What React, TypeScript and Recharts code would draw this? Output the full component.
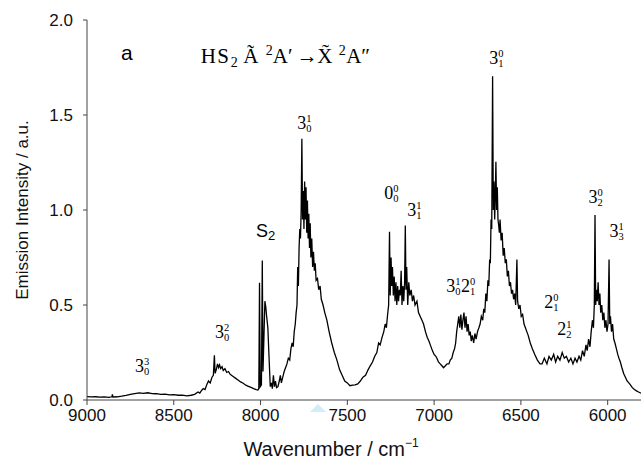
import React from 'react';
import { LineChart, Line, XAxis, YAxis, ReferenceDot } from 'recharts';

const wavenumber = [
  9000, 8975, 8950, 8925, 8900, 8875, 8856, 8854, 8850, 8825, 8800, 8775, 8750, 8725, 8700, 8675, 8650, 8625, 8600, 8575,
  8550, 8525, 8500, 8475, 8450, 8425, 8400, 8380, 8360, 8350, 8340, 8330, 8320, 8310, 8300, 8290, 8280, 8272, 8266, 8262,
  8255, 8248, 8242, 8236, 8230, 8222, 8215, 8205, 8195, 8185, 8175, 8160, 8145, 8130, 8115, 8100, 8085, 8070, 8055, 8040,
  8025, 8015, 8010, 8006, 8002, 7995, 7990, 7986, 7980, 7975, 7970, 7965, 7958, 7950, 7944, 7938, 7932, 7926, 7920, 7914,
  7908, 7900, 7892, 7886, 7880, 7872, 7864, 7856, 7848, 7840, 7832, 7825, 7818, 7812, 7806, 7800, 7795, 7790, 7786, 7782,
  7778, 7774, 7770, 7766, 7762, 7758, 7754, 7750, 7746, 7742, 7738, 7734, 7730, 7726, 7722, 7718, 7714, 7710, 7705, 7700,
  7695, 7690, 7685, 7680, 7672, 7665, 7657, 7650, 7640, 7630, 7618, 7605, 7590, 7575, 7560, 7545, 7530, 7515, 7500, 7485,
  7470, 7455, 7440, 7425, 7410, 7395, 7380, 7368, 7355, 7342, 7330, 7320, 7311, 7300, 7290, 7282, 7275, 7268, 7262, 7257,
  7253, 7248, 7244, 7240, 7235, 7230, 7225, 7220, 7215, 7210, 7205, 7200, 7195, 7190, 7185, 7180, 7175, 7170, 7166, 7162,
  7158, 7152, 7146, 7140, 7132, 7125, 7118, 7110, 7099, 7090, 7080, 7070, 7061, 7050, 7040, 7030, 7022, 7010, 7000, 6990,
  6984, 6975, 6965, 6955, 6946, 6935, 6925, 6915, 6907, 6898, 6890, 6882, 6876, 6870, 6864, 6858, 6852, 6846, 6840, 6834,
  6828, 6822, 6816, 6810, 6804, 6798, 6792, 6786, 6780, 6772, 6765, 6758, 6750, 6742, 6735, 6728, 6720, 6714, 6708, 6702,
  6696, 6690, 6685, 6680, 6676, 6672, 6668, 6663, 6659, 6655, 6651, 6647, 6644, 6640, 6636, 6632, 6628, 6624, 6620, 6614,
  6608, 6602, 6596, 6590, 6584, 6578, 6572, 6566, 6560, 6554, 6548, 6542, 6536, 6530, 6523, 6519, 6512, 6505, 6498, 6490,
  6482, 6474, 6466, 6458, 6446, 6434, 6420, 6405, 6390, 6378, 6365, 6350, 6338, 6325, 6311, 6300, 6288, 6275, 6262, 6250,
  6238, 6225, 6212, 6200, 6188, 6177, 6165, 6155, 6145, 6135, 6125, 6118, 6110, 6102, 6095, 6088, 6082, 6077, 6073, 6069,
  6065, 6060, 6055, 6050, 6045, 6040, 6034, 6028, 6022, 6016, 6010, 6004, 5998, 5992, 5988, 5984, 5978, 5972, 5965, 5958,
  5950, 5942, 5935, 5927, 5918, 5908, 5898, 5888, 5878, 5869, 5858, 5846, 5834, 5822, 5808,
];

const intensity = [
  0.018, 0.016, 0.017, 0.015, 0.016, 0.014, 0.017, 0.03, 0.016, 0.017, 0.02, 0.024, 0.03, 0.034, 0.037, 0.035, 0.038, 0.034, 0.033, 0.03,
  0.031, 0.027, 0.028, 0.025, 0.026, 0.022, 0.025, 0.03, 0.042, 0.036, 0.05, 0.06, 0.055, 0.08, 0.1, 0.09, 0.12, 0.13, 0.236, 0.14,
  0.16, 0.19, 0.17, 0.185, 0.165, 0.175, 0.155, 0.165, 0.145, 0.15, 0.135, 0.125, 0.115, 0.105, 0.095, 0.088, 0.078, 0.072, 0.066, 0.06,
  0.055, 0.053, 0.06, 0.617, 0.07, 0.08, 0.734, 0.15, 0.35, 0.52, 0.49, 0.44, 0.38, 0.2, 0.07, 0.09, 0.06, 0.13, 0.07, 0.1,
  0.065, 0.07, 0.1, 0.13, 0.09, 0.12, 0.15, 0.17, 0.19, 0.22, 0.21, 0.27, 0.3, 0.28, 0.36, 0.4, 0.46, 0.5, 0.7, 0.6,
  0.8, 0.9, 0.85, 1.0, 1.375, 0.95, 1.1, 0.9, 1.15, 0.95, 1.12, 0.88, 1.05, 0.85, 0.98, 0.8, 0.93, 0.75, 0.85, 0.7,
  0.78, 0.68, 0.72, 0.63, 0.64, 0.58, 0.6, 0.53, 0.5, 0.46, 0.42, 0.36, 0.3, 0.25, 0.21, 0.16, 0.13, 0.1, 0.09, 0.075,
  0.078, 0.08, 0.085, 0.1, 0.12, 0.13, 0.16, 0.18, 0.2, 0.23, 0.25, 0.3, 0.29, 0.33, 0.36, 0.4, 0.38, 0.45, 0.5, 0.885,
  0.55, 0.75, 0.6, 0.7, 0.55, 0.65, 0.52, 0.62, 0.5, 0.6, 0.52, 0.58, 0.55, 0.68, 0.5, 0.6, 0.52, 0.62, 0.918, 0.58,
  0.7, 0.5, 0.62, 0.55, 0.58, 0.52, 0.55, 0.5, 0.52, 0.46, 0.44, 0.42, 0.4, 0.36, 0.33, 0.31, 0.29, 0.26, 0.24, 0.23,
  0.22, 0.2, 0.19, 0.18, 0.17, 0.18, 0.19, 0.19, 0.21, 0.22, 0.25, 0.27, 0.3, 0.36, 0.4, 0.44, 0.38, 0.45, 0.37, 0.42,
  0.46, 0.38, 0.44, 0.36, 0.4, 0.34, 0.36, 0.31, 0.34, 0.3, 0.35, 0.32, 0.36, 0.38, 0.4, 0.44, 0.42, 0.48, 0.46, 0.56,
  0.52, 0.63, 0.6, 0.74, 0.72, 0.95, 0.9, 1.704, 1.0, 1.15, 0.95, 1.1, 1.254, 1.0, 1.12, 0.95, 0.92, 0.88, 0.95, 0.84,
  0.88, 0.76, 0.8, 0.72, 0.74, 0.65, 0.68, 0.6, 0.62, 0.56, 0.58, 0.53, 0.56, 0.5, 0.74, 0.52, 0.48, 0.5, 0.44, 0.45,
  0.4, 0.38, 0.36, 0.34, 0.3, 0.27, 0.24, 0.21, 0.19, 0.19, 0.22, 0.19, 0.23, 0.21, 0.24, 0.2, 0.23, 0.21, 0.25, 0.22,
  0.23, 0.2, 0.22, 0.19, 0.22, 0.2, 0.23, 0.21, 0.26, 0.23, 0.29, 0.26, 0.32, 0.28, 0.36, 0.42, 0.38, 0.5, 0.973, 0.5,
  0.58, 0.52, 0.62, 0.5, 0.56, 0.46, 0.5, 0.42, 0.46, 0.38, 0.42, 0.36, 0.4, 0.74, 0.4, 0.44, 0.36, 0.4, 0.32, 0.3,
  0.27, 0.24, 0.22, 0.2, 0.17, 0.14, 0.12, 0.1, 0.09, 0.08, 0.065, 0.055, 0.048, 0.042, 0.036,
];

const xTicks = [9000, 8500, 8000, 7500, 7000, 6500, 6000];
const yTicks = [0, 0.5, 1, 1.5, 2];

// [main, superscript, subscript]
const peakLabels = [
  { wn: 8723, y: 0.15, parts: [['3', '3', '0']] },
  { wn: 8262, y: 0.324, parts: [['3', '2', '0']] },
  { wn: 7789, y: 1.424, parts: [['3', '1', '0']] },
  { wn: 7287, y: 1.06, parts: [['0', '0', '0']] },
  { wn: 7155, y: 0.968, parts: [['3', '1', '1']] },
  { wn: 6930, y: 0.568, parts: [['3', '1', '0'], ['2', '0', '1']] },
  { wn: 6682, y: 1.766, parts: [['3', '0', '1']] },
  { wn: 6365, y: 0.482, parts: [['2', '0', '1']] },
  { wn: 6290, y: 0.34, parts: [['2', '1', '2']] },
  { wn: 6111, y: 1.039, parts: [['3', '0', '2']] },
  { wn: 5990, y: 0.86, parts: [['3', '1', '3']] },
];

const data = wavenumber.map((w, i) => ({ w, v: intensity[i] }));

const SERIF = '"Liberation Serif", "Times New Roman", serif';
const SANS = '"Liberation Sans", Arial, sans-serif';

function PeakLabel({ cx, cy, parts }: any) {
  const spans: any[] = [];
  parts.forEach((p: string[], k: number) => {
    const x0 = cx + k * 14.7;
    spans.push(<tspan key={`m${k}`} x={x0} y={cy} fontSize={18}>{p[0]}</tspan>);
    spans.push(<tspan key={`p${k}`} x={x0 + 9} y={cy - 7} fontSize={10.5}>{p[1]}</tspan>);
    spans.push(<tspan key={`b${k}`} x={x0 + 9} y={cy + 3} fontSize={10.5}>{p[2]}</tspan>);
  });
  return <text fontFamily={SERIF} fill="#000">{spans}</text>;
}

function Title({ cx, cy }: any) {
  return (
    <text fontFamily={SERIF} fill="#000" fontSize={21}>
      <tspan x={cx} y={cy}>H</tspan>
      <tspan x={cx + 16.5} y={cy}>S</tspan>
      <tspan x={cx + 30} y={cy + 4} fontSize={14}>2</tspan>
      <tspan x={cx + 42.3} y={cy}>Ã</tspan>
      <tspan x={cx + 65} y={cy - 8} fontSize={14}>2</tspan>
      <tspan x={cx + 72} y={cy}>A′</tspan>
      <tspan x={cx + 96} y={cy}>→</tspan>
      <tspan x={cx + 116.3} y={cy}>{'X\u0303'}</tspan>
      <tspan x={cx + 138} y={cy - 8} fontSize={14}>2</tspan>
      <tspan x={cx + 145.3} y={cy}>A″</tspan>
    </text>
  );
}

export default function App() {
  return (
    <div style={{ position: 'absolute', left: 0, top: 0, background: '#fff' }}>
      <LineChart width={642} height={468} data={data} margin={{ top: 20, right: 1, bottom: 0, left: 0 }}>
        <XAxis
          dataKey="w"
          type="number"
          domain={[5808, 9000]}
          reversed
          allowDataOverflow
          ticks={xTicks}
          height={68}
          tickSize={5}
          tickMargin={4}
          stroke="#444"
          tick={{ fill: '#111', fontFamily: SANS, fontSize: 17 }}
          label={{
            content: (p: any) => {
              const vb = p.viewBox;
              return (
                <text x={331} y={vb.y + 56} textAnchor="middle" fontFamily={SANS} fontSize={20} fill="#111">
                  Wavenumber / cm<tspan dy={-9} fontSize={12}>−1</tspan>
                </text>
              );
            },
          }}
        />
        <XAxis xAxisId="top" orientation="top" type="number" domain={[5808, 9000]} reversed height={0} tick={false} tickLine={false} stroke="#444" />
        <YAxis
          type="number"
          domain={[0, 2]}
          ticks={yTicks}
          width={87}
          tickSize={4}
          tickMargin={10}
          stroke="#444"
          tickFormatter={(v: number) => v.toFixed(1)}
          tick={{ fill: '#111', fontFamily: SANS, fontSize: 17 }}
          label={{
            content: (p: any) => {
              const vb = p.viewBox;
              const x = 22;
              const y = vb.y + vb.height / 2;
              return (
                <text x={x} y={y} transform={`rotate(-90 ${x} ${y})`} textAnchor="middle" dominantBaseline="central" fontFamily={SANS} fontSize={17} fill="#111">
                  Emission Intensity / a.u.
                </text>
              );
            },
          }}
        />
        <YAxis yAxisId="right" orientation="right" type="number" domain={[0, 2]} width={0} tick={false} tickLine={false} stroke="#444" />
        <Line type="linear" dataKey="v" stroke="#000" strokeWidth={1.3} dot={false} isAnimationActive={false} />
        <ReferenceDot x={7669} y={0} r={0} ifOverflow="visible" shape={(p: any) => (
          <polygon points={`${p.cx},${p.cy + 4} ${p.cx - 8},${p.cy + 12} ${p.cx + 8},${p.cy + 12}`} fill="#d4ecf7" />
        )} />
        <ReferenceDot x={8804} y={1.792} r={0} ifOverflow="visible" shape={(p: any) => (
          <text x={p.cx} y={p.cy} fontFamily={SANS} fontSize={21} fill="#000">a</text>
        )} />
        <ReferenceDot x={8344} y={1.775} r={0} ifOverflow="visible" shape={(p: any) => <Title cx={p.cx} cy={p.cy} />} />
        <ReferenceDot x={8026} y={0.86} r={0} ifOverflow="visible" shape={(p: any) => (
          <text x={p.cx} y={p.cy} fontFamily={SANS} fontSize={18} fill="#000">S<tspan fontSize={13} dy={3}>2</tspan></text>
        )} />
        {peakLabels.map((l, i) => (
          <ReferenceDot key={i} x={l.wn} y={l.y} r={0} ifOverflow="visible" shape={(p: any) => <PeakLabel cx={p.cx} cy={p.cy} parts={l.parts} />} />
        ))}
      </LineChart>
    </div>
  );
}
